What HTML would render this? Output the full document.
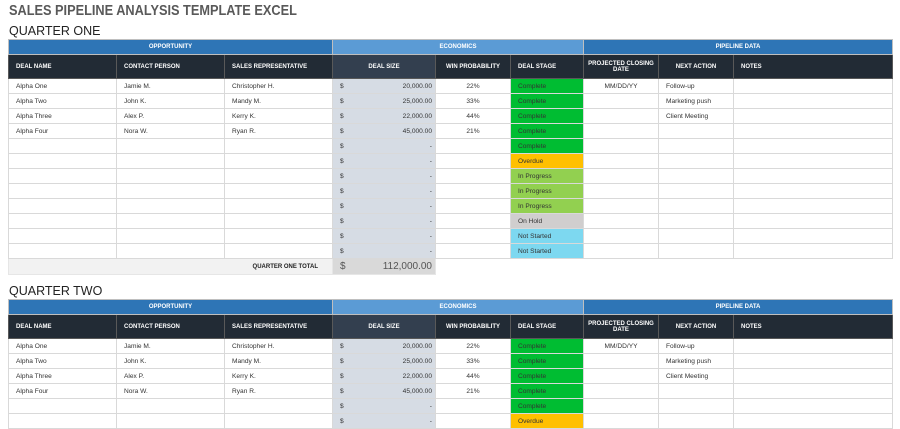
<!DOCTYPE html>
<html><head><meta charset="utf-8"><style>
body{margin:0;width:900px;height:429px;overflow:hidden;background:#fff;font-family:"Liberation Sans",sans-serif;position:relative}
.t{position:absolute;left:9px;top:2px;font-size:15px;font-weight:bold;color:#595959;transform:scaleX(0.85);transform-origin:0 0;white-space:nowrap}
.q{position:absolute;left:9px;font-size:12.5px;color:#222}
table{position:absolute;left:8px;border-collapse:collapse;table-layout:fixed;font-size:6.6px;color:#333}
td{border:1px solid #d9d9d9;padding:0 0 0 7px;white-space:nowrap;overflow:hidden;height:14px}
tr.b td{height:14px;background:#2e75b6;color:#fff;font-weight:bold;text-align:center;border-color:#bfbfbf;font-size:6px;padding:0}
tr.b td.e{background:#5b9bd5}
tr.h td{height:23px;background:#222b35;color:#fff;font-weight:bold;font-size:6px;border-color:#595959}
tr.h td.c{text-align:center;padding:0}
tr.h td.d{background:#333f4f}
td.ds{background:#d6dce4;text-align:right;padding-right:3px}
td.ds i{float:left;font-style:normal}
td.ct{text-align:center;padding:0}
.g{background:#00bd32}.o{background:#ffc000}.p{background:#92d050}.hld{background:#d0cece}.n{background:#7dd8f0}
tr.tot td{height:15px;background:#f2f2f2;border-color:#e6e6e6}
tr.tot td.ds{background:#d9d9d9;font-size:10px;color:#555}
</style></head><body>
<div class="t">SALES PIPELINE ANALYSIS TEMPLATE EXCEL</div>
<div class="q" style="top:24px">QUARTER ONE</div>
<table style="top:39px">
<colgroup><col style="width:108px"><col style="width:108px"><col style="width:108px"><col style="width:103px"><col style="width:75px"><col style="width:73px"><col style="width:75px"><col style="width:75px"><col style="width:159px"></colgroup>
<tr class="b"><td colspan="3">OPPORTUNITY</td><td colspan="3" class="e">ECONOMICS</td><td colspan="3">PIPELINE DATA</td></tr>
<tr class="h"><td>DEAL NAME</td><td>CONTACT PERSON</td><td>SALES REPRESENTATIVE</td><td class="c d">DEAL SIZE</td><td class="c">WIN PROBABILITY</td><td>DEAL STAGE</td><td class="c">PROJECTED CLOSING<br>DATE</td><td class="c">NEXT ACTION</td><td>NOTES</td></tr>
<tr><td>Alpha One</td><td>Jamie M.</td><td>Christopher H.</td><td class="ds"><i>$</i>20,000.00</td><td class="ct">22%</td><td class="g">Complete</td><td class="ct">MM/DD/YY</td><td>Follow-up</td><td></td></tr>
<tr><td>Alpha Two</td><td>John K.</td><td>Mandy M.</td><td class="ds"><i>$</i>25,000.00</td><td class="ct">33%</td><td class="g">Complete</td><td></td><td>Marketing push</td><td></td></tr>
<tr><td>Alpha Three</td><td>Alex P.</td><td>Kerry K.</td><td class="ds"><i>$</i>22,000.00</td><td class="ct">44%</td><td class="g">Complete</td><td></td><td>Client Meeting</td><td></td></tr>
<tr><td>Alpha Four</td><td>Nora W.</td><td>Ryan R.</td><td class="ds"><i>$</i>45,000.00</td><td class="ct">21%</td><td class="g">Complete</td><td></td><td></td><td></td></tr>
<tr><td></td><td></td><td></td><td class="ds"><i>$</i>-</td><td></td><td class="g">Complete</td><td></td><td></td><td></td></tr>
<tr><td></td><td></td><td></td><td class="ds"><i>$</i>-</td><td></td><td class="o">Overdue</td><td></td><td></td><td></td></tr>
<tr><td></td><td></td><td></td><td class="ds"><i>$</i>-</td><td></td><td class="p">In Progress</td><td></td><td></td><td></td></tr>
<tr><td></td><td></td><td></td><td class="ds"><i>$</i>-</td><td></td><td class="p">In Progress</td><td></td><td></td><td></td></tr>
<tr><td></td><td></td><td></td><td class="ds"><i>$</i>-</td><td></td><td class="p">In Progress</td><td></td><td></td><td></td></tr>
<tr><td></td><td></td><td></td><td class="ds"><i>$</i>-</td><td></td><td class="hld">On Hold</td><td></td><td></td><td></td></tr>
<tr><td></td><td></td><td></td><td class="ds"><i>$</i>-</td><td></td><td class="n">Not Started</td><td></td><td></td><td></td></tr>
<tr><td></td><td></td><td></td><td class="ds"><i>$</i>-</td><td></td><td class="n">Not Started</td><td></td><td></td><td></td></tr>
<tr class="tot"><td colspan="3" style="text-align:right;padding-right:14px;font-weight:bold;font-size:6px;color:#222">QUARTER ONE TOTAL</td><td class="ds"><i>$</i>112,000.00</td><td style="background:#fff;border:none"></td><td style="background:#fff;border:none"></td><td style="background:#fff;border:none"></td><td style="background:#fff;border:none"></td><td style="background:#fff;border:none"></td></tr>
</table>
<div class="q" style="top:284px">QUARTER TWO</div>
<table style="top:299px">
<colgroup><col style="width:108px"><col style="width:108px"><col style="width:108px"><col style="width:103px"><col style="width:75px"><col style="width:73px"><col style="width:75px"><col style="width:75px"><col style="width:159px"></colgroup>
<tr class="b"><td colspan="3">OPPORTUNITY</td><td colspan="3" class="e">ECONOMICS</td><td colspan="3">PIPELINE DATA</td></tr>
<tr class="h"><td>DEAL NAME</td><td>CONTACT PERSON</td><td>SALES REPRESENTATIVE</td><td class="c d">DEAL SIZE</td><td class="c">WIN PROBABILITY</td><td>DEAL STAGE</td><td class="c">PROJECTED CLOSING<br>DATE</td><td class="c">NEXT ACTION</td><td>NOTES</td></tr>
<tr><td>Alpha One</td><td>Jamie M.</td><td>Christopher H.</td><td class="ds"><i>$</i>20,000.00</td><td class="ct">22%</td><td class="g">Complete</td><td class="ct">MM/DD/YY</td><td>Follow-up</td><td></td></tr>
<tr><td>Alpha Two</td><td>John K.</td><td>Mandy M.</td><td class="ds"><i>$</i>25,000.00</td><td class="ct">33%</td><td class="g">Complete</td><td></td><td>Marketing push</td><td></td></tr>
<tr><td>Alpha Three</td><td>Alex P.</td><td>Kerry K.</td><td class="ds"><i>$</i>22,000.00</td><td class="ct">44%</td><td class="g">Complete</td><td></td><td>Client Meeting</td><td></td></tr>
<tr><td>Alpha Four</td><td>Nora W.</td><td>Ryan R.</td><td class="ds"><i>$</i>45,000.00</td><td class="ct">21%</td><td class="g">Complete</td><td></td><td></td><td></td></tr>
<tr><td></td><td></td><td></td><td class="ds"><i>$</i>-</td><td></td><td class="g">Complete</td><td></td><td></td><td></td></tr>
<tr><td></td><td></td><td></td><td class="ds"><i>$</i>-</td><td></td><td class="o">Overdue</td><td></td><td></td><td></td></tr>
</table>
</body></html>
